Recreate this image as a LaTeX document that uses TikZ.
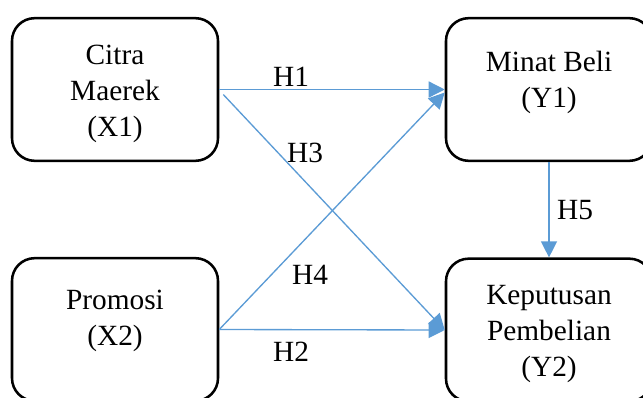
\documentclass[tikz,border=0pt]{standalone}
\usepackage{fontspec}
\setmainfont{Liberation Serif}
\usepackage{tikz}
\usetikzlibrary{arrows.meta,positioning,calc}
\definecolor{ink}{HTML}{000000}
\definecolor{linkblue}{HTML}{5B9BD5}
\tikzset{
  varbox/.style={draw=ink,line width=1.9pt,rounded corners=17pt,
                 minimum width=154.5pt,minimum height=107pt,inner sep=0pt},
  vartext/.style={align=center,font=\fontsize{22}{27}\selectfont,inner sep=0pt},
  hyplabel/.style={font=\fontsize{22}{26}\selectfont,inner sep=0pt},
  linkarr/.style={-{Triangle[length=12pt,width=12pt]},line width=1pt,color=linkblue}
}

\begin{document}
\begin{tikzpicture}[x=0.75pt,y=-0.75pt]
  \useasboundingbox (0,0) rectangle (643,397);
  \clip (0,0) rectangle (643,397);
  % ---- variable boxes ----
  \node[varbox] (x1) at (115,89.5) {};
  \node[varbox] (y1) at (549,89.5) {};
  \node[varbox] (x2) at (115,329.5) {};
  \node[varbox] (y2) at (549,330) {};
  \node[vartext] (x1txt) at (115,94) {Citra\\Maerek\\(X1)};
  \node[vartext] (y1txt) at (549,82) {Minat Beli\\(Y1)};
  \node[vartext] (x2txt) at (115,321) {Promosi\\(X2)};
  \node[vartext] (y2txt) at (549,334) {Keputusan\\Pembelian\\(Y2)};
  % ---- hypothesis paths ----
  \draw[linkarr] (x1.east) -- (y1.west);
  \draw[linkarr] ($(x1.east)+(4,5)$) -- (y2.west);
  \draw[linkarr] (x2.east) -- ($(y1.west)+(0,3)$);
  \draw[linkarr] (x2.east) -- (y2.west);
  \draw[linkarr] (y1.south) -- (y2.north);
  \node[hyplabel] (h1) at (291,77) {H1};
  \node[hyplabel] (h3) at (305,153) {H3};
  \node[hyplabel] (h4) at (310,275) {H4};
  \node[hyplabel] (h2) at (291,352) {H2};
  \node[hyplabel] (h5) at (575,210) {H5};
\end{tikzpicture}
\end{document}
